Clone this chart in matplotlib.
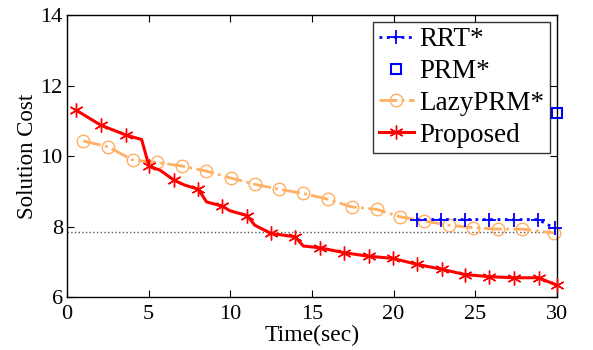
import matplotlib
matplotlib.use("Agg")
import matplotlib.pyplot as plt

plt.rcParams['font.family'] = ['Liberation Serif', 'DejaVu Serif']
plt.rcParams['mathtext.fontset'] = 'stix'

# Proposed (all line vertices; markers on a subset)
prop_x = [0.57, 2.06, 3.59, 4.57, 5.02, 5.70, 6.55, 7.20, 8.04, 8.55, 9.51, 9.98,
          11.04, 11.50, 12.47, 13.98, 14.47, 15.49, 16.98, 18.47, 19.96, 21.43,
          22.96, 24.38, 25.87, 27.39, 28.88, 30.0]
prop_y = [11.30, 10.88, 10.60, 10.47, 9.72, 9.60, 9.32, 9.18, 9.06, 8.70, 8.58, 8.45,
          8.31, 8.04, 7.81, 7.71, 7.45, 7.40, 7.26, 7.16, 7.10, 6.93,
          6.79, 6.64, 6.58, 6.55, 6.55, 6.34]
prop_marks = [0, 1, 2, 4, 6, 8, 10, 12, 14, 15, 17, 18, 19, 20, 21, 22, 23, 24, 25, 26, 27]

lazy_x = [1.0, 2.53, 4.02, 5.53, 7.02, 8.49, 10.02, 11.51, 12.98, 14.47, 15.96, 17.43,
          18.96, 20.39, 21.88, 23.39, 24.88, 26.37, 27.84, 29.85]
lazy_y = [10.43, 10.26, 9.89, 9.82, 9.72, 9.58, 9.38, 9.20, 9.06, 8.94, 8.78, 8.56,
          8.49, 8.28, 8.16, 8.04, 7.97, 7.93, 7.93, 7.82]

rrt_x = [21.41, 22.88, 24.37, 25.86, 27.37, 28.86, 29.88]
rrt_y = [8.20, 8.20, 8.20, 8.20, 8.20, 8.20, 7.95]

prm_x = [30.0]
prm_y = [11.22]

ref_cost = 7.85

fig = plt.figure(figsize=(5.93, 3.5), dpi=100)
ax = fig.add_axes([0.113, 0.151, 0.826, 0.806])

ax.axhline(ref_cost, color='#555555', linestyle=':', linewidth=1.0, zorder=1)

l_rrt, = ax.plot(rrt_x, rrt_y, linestyle=':', color='#0000FF', linewidth=2,
                 marker='+', markersize=10, markeredgewidth=1.3, label='RRT*', clip_on=False, zorder=3)
l_prm, = ax.plot(prm_x, prm_y, linestyle='none', color='#0000FF', marker='s',
                 markersize=6.5, markerfacecolor='none', markeredgewidth=1.5, label='PRM*', clip_on=False, zorder=4)
l_lazy, = ax.plot(lazy_x, lazy_y, linestyle='-.', color='#FFB062', linewidth=2,
                  marker='o', markersize=9, markerfacecolor='none', markeredgewidth=1.0,
                  label='LazyPRM*', clip_on=False, zorder=2)
l_prop, = ax.plot(prop_x, prop_y, linestyle='-', color='#FF0000', linewidth=2.2,
                  marker=(6, 2, 0), markersize=10, markeredgewidth=1.0, markevery=prop_marks,
                  label='Proposed', clip_on=False, zorder=3)

ax.set_xlim(0, 30)
ax.set_ylim(6, 14)
ax.set_xticks([0, 5, 10, 15, 20, 25, 30])
ax.set_yticks([6, 8, 10, 12, 14])
ax.tick_params(direction='in', top=True, right=True, labelsize=16, length=5, width=0.8)
ax.tick_params(axis='x', pad=6)
ax.tick_params(axis='y', pad=3)
for s in ax.spines.values():
    s.set_linewidth(1.0)

ax.set_xlabel('Time(sec)', fontsize=17, labelpad=0)
ax.set_ylabel('Solution Cost', fontsize=16.5, labelpad=2)

leg = ax.legend(handles=[l_rrt, l_prm, l_lazy, l_prop], loc='upper right',
                fontsize=19.5, frameon=True, fancybox=False, edgecolor='black',
                borderaxespad=0.25, handlelength=1.3, handletextpad=0.2,
                labelspacing=0.25, borderpad=0.2)
leg.get_frame().set_linewidth(1.0)

fig.savefig('out.png', dpi=100)
